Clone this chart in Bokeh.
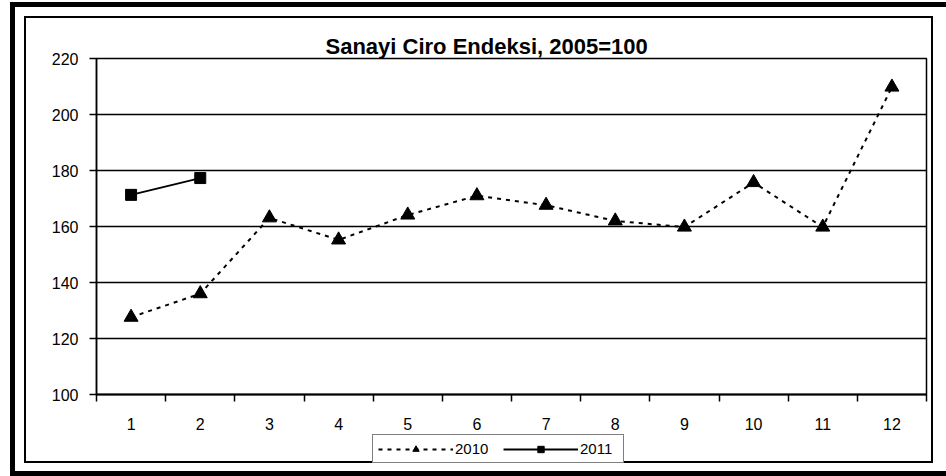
from bokeh.plotting import figure
from bokeh.layouts import column
from bokeh.models import Range1d, FixedTicker, Legend, LegendItem
from bokeh.embed import file_html
from bokeh.resources import INLINE

months = [1, 2, 3, 4, 5, 6, 7, 8, 9, 10, 11, 12]
v2010 = [127.6, 136.0, 163.1, 155.2, 164.1, 171.0, 167.6, 162.0, 159.8, 175.7, 159.8, 209.8]
months_2011 = [1, 2]
v2011 = [171.3, 177.3]
y_ticks = [100, 120, 140, 160, 180, 200, 220]
title_text = "Sanayi Ciro Endeksi, 2005=100"
FONT = "Liberation Sans"

# decorative frames (outer thick, inner thin) drawn as CSS background rectangles
frame_rects = [
    (10, 2, 936, 5), (10, 2, 5, 474), (10, 471, 936, 5),          # outer thick
    (24, 16, 909, 2), (24, 16, 2, 447), (931, 16, 2, 447), (24, 461, 909, 2),  # inner thin
]
bg_styles = {
    "background-image": ", ".join(["linear-gradient(#000, #000)"] * len(frame_rects)),
    "background-size": ", ".join(f"{w}px {h}px" for (_, _, w, h) in frame_rects),
    "background-position": ", ".join(f"{x}px {y}px" for (x, y, _, _) in frame_rects),
    "background-repeat": "no-repeat",
    "background-color": "white",
}

def style_line(fig, xs, ys, dashed):
    if dashed:
        ln = fig.line(xs, ys, line_color="black", line_width=2, line_dash="4 5")
        mk = fig.scatter(xs, ys, marker="triangle", size=14, fill_color="black",
                         line_color="black")
    else:
        ln = fig.line(xs, ys, line_color="black", line_width=1.8)
        mk = fig.scatter(xs, ys, marker="square", size=11, fill_color="black",
                         line_color="black")
    return ln, mk

# ---------------- main chart ----------------
p = figure(width=946, height=432, output_backend="svg", toolbar_location=None,
           x_range=Range1d(0.5, 12.5), y_range=Range1d(100, 220),
           min_border_left=96, min_border_right=20, min_border_top=58,
           min_border_bottom=38)
p.background_fill_color = "white"
p.border_fill_color = None
p.outline_line_color = "black"
p.outline_line_width = 1.5

p.title.text = title_text
p.title.align = "left"
p.title.offset = 229
p.title.standoff = 0
p.title.text_font = FONT
p.title.text_font_size = "22px"
p.title.text_font_style = "bold"
p.title.text_color = "black"

p.yaxis.ticker = FixedTicker(ticks=y_ticks)
p.yaxis.axis_line_color = "black"
p.yaxis.axis_line_width = 1.5
p.yaxis.major_tick_out = 7
p.yaxis.major_tick_in = 0
p.yaxis.major_tick_line_color = "black"
p.yaxis.major_tick_line_width = 1.5
p.yaxis.minor_tick_line_color = None
p.yaxis.major_label_standoff = 11
p.yaxis.major_label_text_font = FONT
p.yaxis.major_label_text_font_size = "16px"
p.yaxis.major_label_text_color = "black"

p.xaxis.ticker = FixedTicker(ticks=months,
                             minor_ticks=[m - 0.5 for m in months] + [12.5])
p.xaxis.axis_line_color = "black"
p.xaxis.axis_line_width = 2
p.xaxis.major_tick_out = 0
p.xaxis.major_tick_in = 0
p.xaxis.major_tick_line_color = None
p.xaxis.minor_tick_out = 7
p.xaxis.minor_tick_in = 0
p.xaxis.minor_tick_line_color = "black"
p.xaxis.minor_tick_line_width = 1.5
p.xaxis.major_label_standoff = 16
p.xaxis.major_label_text_font = FONT
p.xaxis.major_label_text_font_size = "16px"
p.xaxis.major_label_text_color = "black"

p.xgrid.grid_line_color = None
p.ygrid.ticker = FixedTicker(ticks=y_ticks)
p.ygrid.grid_line_color = "black"
p.ygrid.grid_line_width = 1.5

style_line(p, months, v2010, True)
style_line(p, months_2011, v2011, False)

# ---------------- legend strip (same side borders as the chart; legend inside its frame) ----------------
q = figure(width=946, height=44, output_backend="svg", toolbar_location=None,
           x_range=Range1d(100, 101), y_range=Range1d(100, 101),
           x_axis_location=None, y_axis_location=None,
           min_border_left=96, min_border_right=20, min_border_top=0,
           min_border_bottom=10)
q.background_fill_color = None
q.border_fill_color = None
q.outline_line_color = None
q.grid.visible = False
ql1, qs1 = style_line(q, months, v2010, True)
ql2, qs2 = style_line(q, months_2011, v2011, False)

legend = Legend(items=[LegendItem(label="2010", renderers=[ql1, qs1]),
                       LegendItem(label="2011", renderers=[ql2, qs2])],
                orientation="horizontal", location=(276, 3),
                glyph_width=75, glyph_height=16, label_standoff=2,
                label_width=38, label_height=16, spacing=10, padding=5,
                margin=0, border_line_color="black", border_line_width=1.5,
                background_fill_color="white", background_fill_alpha=1,
                label_text_font=FONT, label_text_font_size="15px",
                label_text_color="black")
q.add_layout(legend, "center")

layout = column(p, q, spacing=0, styles=bg_styles)

open("out.html", "w").write(file_html(layout, INLINE))
